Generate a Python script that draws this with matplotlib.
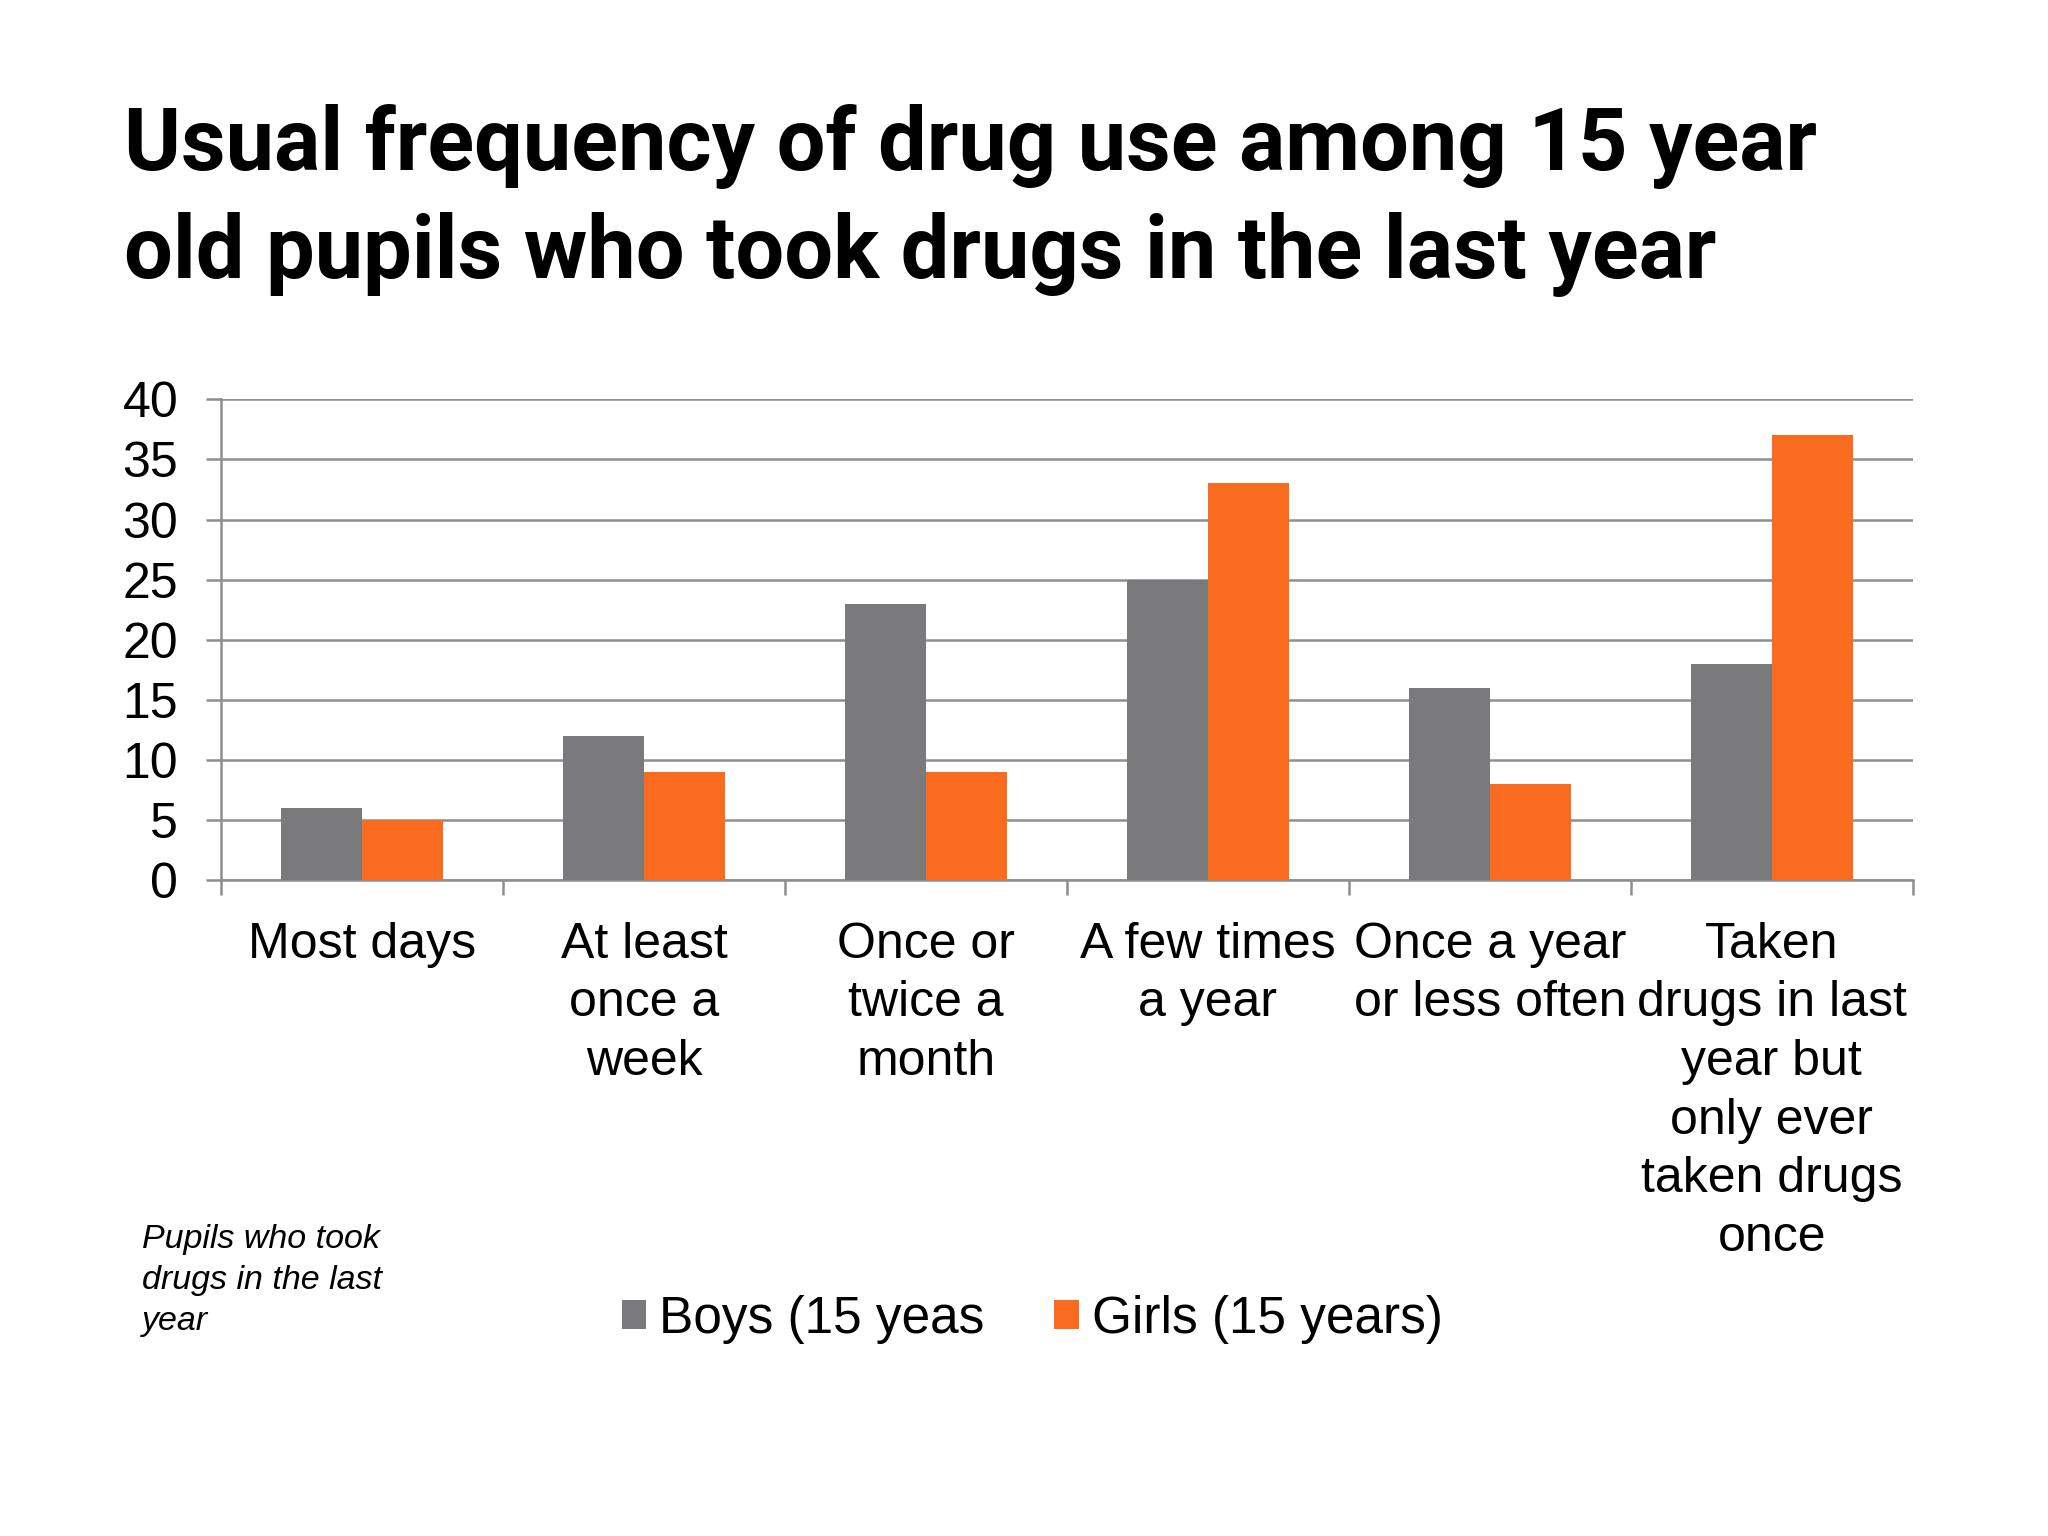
import numpy as np
import matplotlib
matplotlib.use("Agg")
import matplotlib.pyplot as plt
from matplotlib.patches import Patch

plt.rcParams['font.family'] = ['Liberation Sans', 'DejaVu Sans']

categories = ["Most days", "At least\nonce a\nweek", "Once or\ntwice a\nmonth",
              "A few times\na year", "Once a year\nor less often",
              "Taken\ndrugs in last\nyear but\nonly ever\ntaken drugs\nonce"]
boys = [6, 12, 23, 25, 16, 18]
girls = [5, 9, 9, 33, 8, 37]
series_names = ["Boys (15 yeas", "Girls (15 years)"]
yticks = [0, 5, 10, 15, 20, 25, 30, 35, 40]

gray = "#7a7a7c"
orange = "#f96b1e"
grid_c = "#8e8e8e"

fig = plt.figure(figsize=(20.48, 15.36), dpi=100)
fig.patch.set_facecolor("white")

# title, two lines set by hand
title_font = dict(fontsize=62.3, fontweight="bold", family=["Roboto", "Liberation Sans"],
                  va="baseline", ha="left")
fig.text(0.0606, 0.889, "Usual frequency of drug use among 15 year", **title_font)
fig.text(0.0606, 0.819, "old pupils who took drugs in the last year", **title_font)

ax = fig.add_axes([0.108, 0.427, 0.826, 0.313])
x = np.arange(len(categories))
w = 0.287
ax.bar(x - w / 2, boys, width=w, color=gray, zorder=3)
ax.bar(x + w / 2, girls, width=w, color=orange, zorder=3)

ax.set_xlim(-0.5, len(categories) - 0.5)
ax.set_ylim(0, 40)
ax.set_yticks(yticks)
ax.set_yticklabels([str(v) for v in yticks])
ax.yaxis.grid(True, color=grid_c, linewidth=1.8, zorder=0)
ax.set_axisbelow(True)

ax.set_xticks(x)
ax.set_xticklabels(categories, linespacing=1.35)
ax.set_xticks(np.arange(-0.5, len(categories), 1), minor=True)
ax.tick_params(axis="x", which="major", length=0, pad=30, labelsize=36)
ax.tick_params(axis="x", which="minor", length=11, width=1.8, color=grid_c, direction="out")
ax.tick_params(axis="y", which="major", length=11, width=1.8, color=grid_c,
               direction="out", pad=20, labelsize=36)

for side in ["top", "right"]:
    ax.spines[side].set_visible(False)
for side in ["left", "bottom"]:
    ax.spines[side].set_color(grid_c)
    ax.spines[side].set_linewidth(1.8)

fig.text(0.0695, 0.203, "Pupils who took\ndrugs in the last\nyear",
         fontsize=24.5, style="italic", va="top", ha="left", linespacing=1.42)

handles = [Patch(facecolor=gray), Patch(facecolor=orange)]
fig.legend(handles, series_names, loc="center", bbox_to_anchor=(0.504, 0.141),
           ncol=2, frameon=False, fontsize=37, handlelength=0.47, handleheight=0.47,
           handletextpad=0.26, columnspacing=1.36)

fig.savefig("out.png", dpi=100)
